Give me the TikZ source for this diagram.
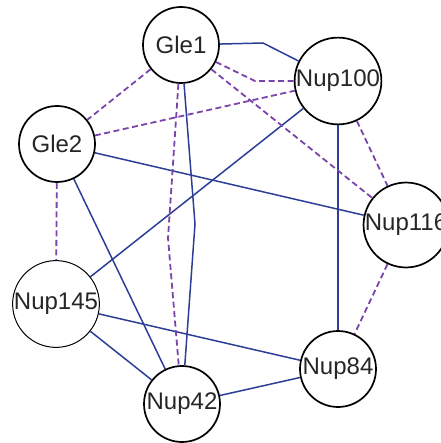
\documentclass[tikz,border=0pt]{standalone}
\usepackage{fontspec}
\setmainfont{Liberation Sans}
\definecolor{linkblue}{RGB}{44,62,150}
\definecolor{linkpurple}{RGB}{122,68,170}
\begin{document}
\begin{tikzpicture}[x=1pt,y=-1pt,
    nup/.style={circle,draw=black,line width=1.7pt,fill=white,minimum size=76pt,inner sep=0pt,
      text=black!85,font=\fontsize{24}{28}\selectfont},
    thin nup/.style={nup,line width=1pt},
    solid link/.style={draw=linkblue,line width=1.5pt},
    dash link/.style={draw=linkpurple,line width=1.8pt,dash pattern=on 6pt off 3.5pt}]
  \useasboundingbox (0,0) rectangle (440,443);
  % nucleoporins on the ring
  \foreach \nm/\x/\y/\lbl in {gle1/181/45/Gle1, nup100/338/81/Nup100, gle2/57/144/Gle2,
      nup116/406/225/Nup116, nup84/338/369/Nup84, nup42/182/404/Nup42}
    \node[nup] (\nm) at (\x,\y) {\lbl};
  \node[thin nup] (nup145) at (56,304) {Nup145};
  % bends of the kinked links
  \coordinate (kinka) at (263,43);
  \coordinate (kinkb) at (255,81);
  \coordinate (kinkc) at (195,224);
  \coordinate (kinkd) at (168,238);
  % solid links
  \draw[solid link] (gle1) -- (kinka) -- (nup100);
  \draw[solid link] (gle1) -- (kinkc) -- (nup42);
  \draw[solid link] (gle2) -- (nup116);
  \draw[solid link] (gle2) -- (nup42);
  \draw[solid link] (nup100) -- (nup145);
  \draw[solid link] (nup100) -- (nup84);
  \draw[solid link] (nup145) -- (nup84);
  \draw[solid link] (nup145) -- (nup42);
  \draw[solid link] (nup42) -- (nup84);
  % dashed links
  \draw[dash link] (gle1) -- (gle2);
  \draw[dash link] (gle1) -- (kinkb) -- (nup100);
  \draw[dash link] (gle1) -- (nup116);
  \draw[dash link] (gle1) -- (kinkd) -- (nup42);
  \draw[dash link] (gle2) -- (nup100);
  \draw[dash link] (gle2) -- (nup145);
  \draw[dash link] (nup100) -- (nup116);
  \draw[dash link] (nup116) -- (nup84);
\end{tikzpicture}
\end{document}
